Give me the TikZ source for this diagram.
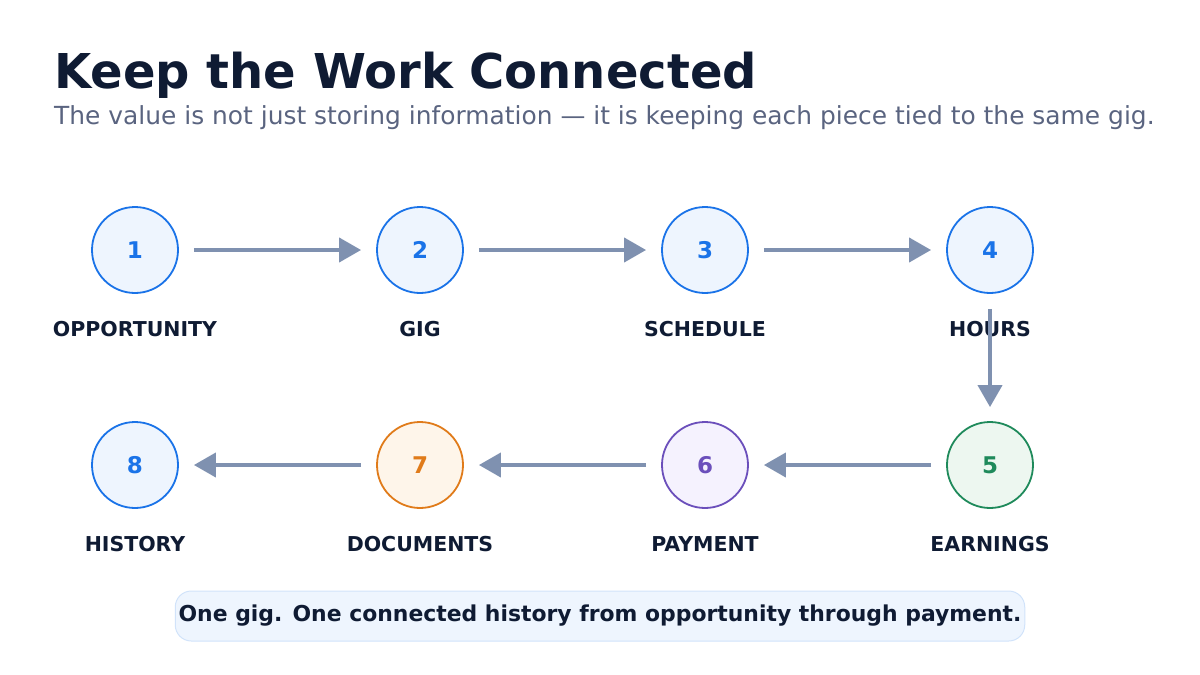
\documentclass[tikz,border=0pt]{standalone}
\usepackage{fontspec}
\setmainfont{DejaVu Sans}
\usetikzlibrary{arrows.meta}
\definecolor{ink}{HTML}{0F1B33}
\definecolor{sub}{HTML}{5A6480}
\definecolor{flow}{HTML}{7F91B0}
\definecolor{blueS}{HTML}{1A73E8}\definecolor{blueF}{HTML}{EEF5FE}
\definecolor{greenS}{HTML}{1F8A5B}\definecolor{greenF}{HTML}{EDF7F0}
\definecolor{purpS}{HTML}{6B4FBB}\definecolor{purpF}{HTML}{F5F2FE}
\definecolor{orS}{HTML}{E07B1A}\definecolor{orF}{HTML}{FEF5EA}
\tikzset{
  stepnode/.style={circle,minimum size=86pt,inner sep=0pt,line width=1.8pt,
    font=\fontsize{23}{23}\selectfont\bfseries},
  bluestep/.style={stepnode,draw=blueS,fill=blueF,text=blueS},
  greenstep/.style={stepnode,draw=greenS,fill=greenF,text=greenS},
  purpstep/.style={stepnode,draw=purpS,fill=purpF,text=purpS},
  orngstep/.style={stepnode,draw=orS,fill=orF,text=orS},
  lbl/.style={font=\fontsize{20.5}{20.5}\selectfont\bfseries,text=ink},
  flowarrow/.style={draw=flow,line width=4pt,-{Triangle[length=22pt,width=24pt]}}
}
\begin{document}
\begin{tikzpicture}[x=1pt,y=-1pt]
\useasboundingbox (0,0) rectangle (1200,675);

% title
\node[anchor=base west,inner sep=0pt,text=ink,font=\fontsize{48}{48}\selectfont\bfseries] (title) at (54,88) {Keep the Work Connected};
\node[anchor=base west,inner sep=0pt,text=sub,font=\fontsize{24.9}{24.9}\selectfont] (subtitle) at (54,124) {The value is not just storing information — it is keeping each piece tied to the same gig.};

% steps
\node[bluestep] (s1) at (135,250) {1};
\node[bluestep] (s2) at (420,250) {2};
\node[bluestep] (s3) at (705,250) {3};
\node[bluestep] (s4) at (990,250) {4};
\node[greenstep] (s5) at (990,465) {5};
\node[purpstep] (s6) at (705,465) {6};
\node[orngstep] (s7) at (420,465) {7};
\node[bluestep] (s8) at (135,465) {8};

% labels
\node[lbl] (l1) at (135,329) {OPPORTUNITY};
\node[lbl] (l2) at (420,329) {GIG};
\node[lbl] (l3) at (705,329) {SCHEDULE};
\node[lbl] (l4) at (990,329) {HOURS};
\node[lbl] (l5) at (990,544) {EARNINGS};
\node[lbl] (l6) at (705,544) {PAYMENT};
\node[lbl] (l7) at (420,544) {DOCUMENTS};
\node[lbl] (l8) at (135,544) {HISTORY};

% connectors
\draw[flowarrow] ([xshift=15pt]s1.east) -- ([xshift=-15pt]s2.west);
\draw[flowarrow] ([xshift=15pt]s2.east) -- ([xshift=-15pt]s3.west);
\draw[flowarrow] ([xshift=15pt]s3.east) -- ([xshift=-15pt]s4.west);
\draw[flowarrow] ([yshift=-15pt]s4.south) -- ([yshift=14pt]s5.north);
\draw[flowarrow] ([xshift=-15pt]s5.west) -- ([xshift=15pt]s6.east);
\draw[flowarrow] ([xshift=-15pt]s6.west) -- ([xshift=15pt]s7.east);
\draw[flowarrow] ([xshift=-15pt]s7.west) -- ([xshift=15pt]s8.east);

% caption
\node[draw=blueS!20,fill=blueF,rounded corners=16pt,minimum width=780pt,minimum height=50pt,
  line width=1pt,text=ink,font=\fontsize{21.9}{21.9}\selectfont\bfseries] (note) at (600,616)
  {One gig. One connected history from opportunity through payment.};
\end{tikzpicture}
\end{document}
